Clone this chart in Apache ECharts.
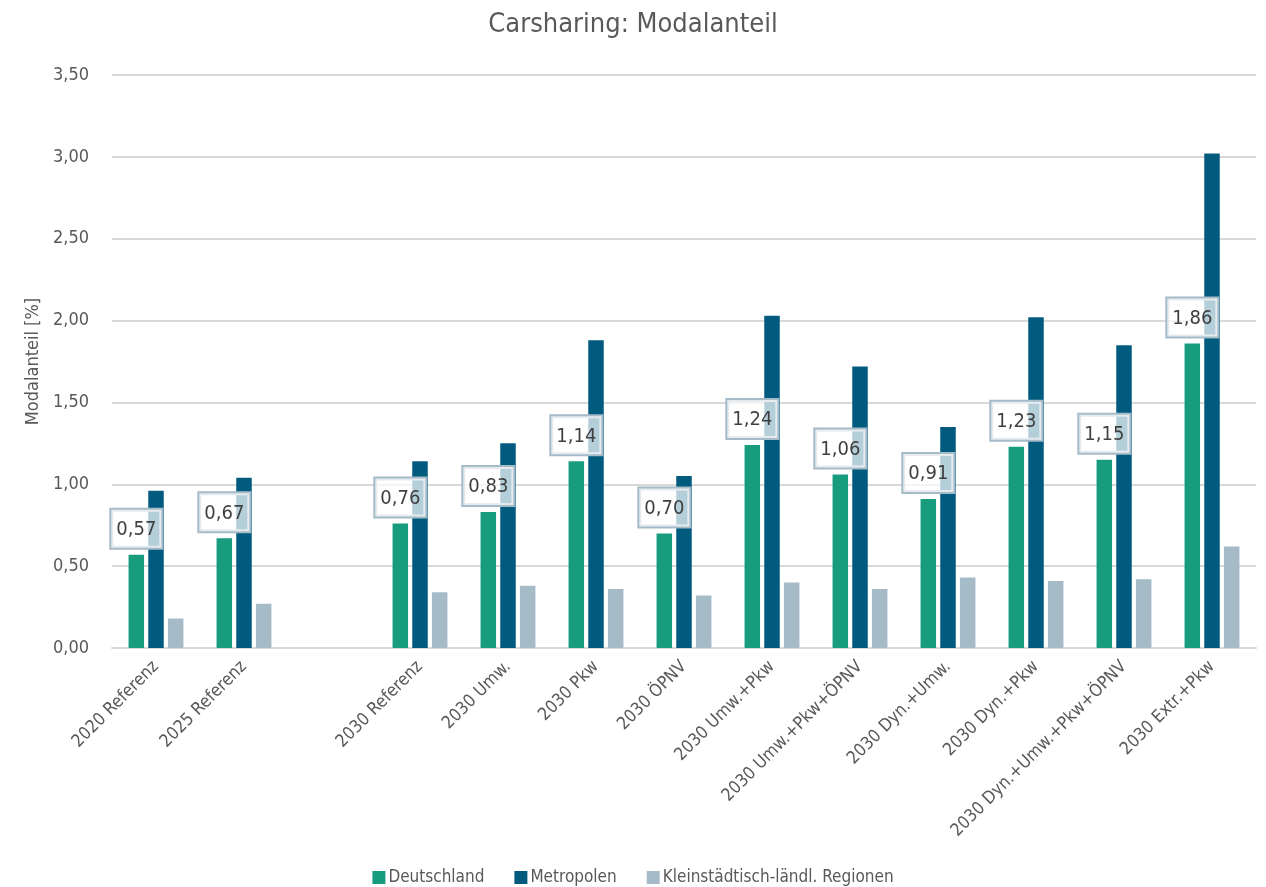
<!DOCTYPE html>
<html>
<head>
<meta charset="utf-8">
<script src="https://cdn.jsdelivr.net/npm/echarts@6/dist/echarts.min.js"></script>
<style>
  html, body { margin: 0; padding: 0; background: #fff; }
  #chart { width: 1266px; height: 887px; }
</style>
</head>
<body>
<div id="chart"></div>
<script>
// Szenarien (leere Kategorie trennt 2025 von den 2030-Szenarien)
const categories = [
  '2020 Referenz', '2025 Referenz', '',
  '2030 Referenz', '2030 Umw.', '2030 Pkw', '2030 ÖPNV',
  '2030 Umw.+Pkw', '2030 Umw.+Pkw+ÖPNV', '2030 Dyn.+Umw.',
  '2030 Dyn.+Pkw', '2030 Dyn.+Umw.+Pkw+ÖPNV', '2030 Extr.+Pkw'
];

// Modalanteil Carsharing in %
const deutschland = [0.57, 0.67, '-', 0.76, 0.83, 1.14, 0.70, 1.24, 1.06, 0.91, 1.23, 1.15, 1.86];
const metropolen  = [0.96, 1.04, '-', 1.14, 1.25, 1.88, 1.05, 2.03, 1.72, 1.35, 2.02, 1.85, 3.02];
const laendlich   = [0.18, 0.27, '-', 0.34, 0.38, 0.36, 0.32, 0.40, 0.36, 0.43, 0.41, 0.42, 0.62];

const yTicks = { min: 0, max: 3.5, interval: 0.5 };

const FONT = '"Liberation Sans Narrow", "DejaVu Sans Condensed", "Roboto Condensed", Roboto, sans-serif';
const TEXT = '#595959';
const fmt = v => Number(v).toFixed(2).replace('.', ',');

const chart = echarts.init(document.getElementById('chart'), null, { renderer: 'canvas' });

chart.setOption({
  animation: false,
  textStyle: { fontFamily: FONT, color: TEXT },
  title: {
    text: 'Carsharing: Modalanteil',
    left: 'center',
    top: 6,
    textStyle: { fontFamily: FONT, fontSize: 27, fontWeight: 'normal', color: TEXT }
  },
  legend: {
    top: 864,
    left: 'center',
    itemWidth: 13,
    itemHeight: 13,
    itemGap: 30,
    icon: 'rect',
    textStyle: { fontFamily: FONT, fontSize: 17, color: TEXT, padding: [0, 0, 0, -2] },
    data: ['Deutschland', 'Metropolen', 'Kleinstädtisch-ländl. Regionen']
  },
  grid: { left: 112, right: 10, top: 75, bottom: 239, containLabel: false },
  xAxis: {
    type: 'category',
    data: categories,
    axisTick: { show: false },
    axisLine: { lineStyle: { color: '#d9d9d9', width: 2 } },
    axisLabel: {
      rotate: 45,
      interval: 0,
      margin: 16,
      fontFamily: FONT,
      fontSize: 17.5,
      color: TEXT
    }
  },
  yAxis: {
    type: 'value',
    min: yTicks.min,
    max: yTicks.max,
    interval: yTicks.interval,
    name: 'Modalanteil [%]',
    nameLocation: 'middle',
    nameGap: 70,
    nameRotate: 90,
    nameTextStyle: { fontFamily: FONT, fontSize: 18, color: TEXT },
    axisLine: { show: false },
    axisTick: { show: false },
    axisLabel: { formatter: fmt, fontFamily: FONT, fontSize: 18, color: TEXT, margin: 23 },
    splitLine: { lineStyle: { color: '#d9d9d9', width: 2 } }
  },
  series: [
    {
      name: 'Deutschland',
      type: 'bar',
      data: deutschland,
      barWidth: 15.5,
      barGap: '27%',
      itemStyle: { color: '#179c7d' },
      label: {
        show: true,
        position: 'top',
        distance: 7,
        formatter: p => fmt(p.value),
        fontFamily: FONT,
        fontSize: 20,
        color: '#404040',
        backgroundColor: 'rgba(255,255,255,0.71)',
        borderColor: '#a6bbc8',
        borderWidth: 2,
        padding: [10, 5, 8, 5]
      }
    },
    {
      name: 'Metropolen',
      type: 'bar',
      data: metropolen,
      barWidth: 15.5,
      barGap: '27%',
      itemStyle: { color: '#005b7f' }
    },
    {
      name: 'Kleinstädtisch-ländl. Regionen',
      type: 'bar',
      data: laendlich,
      barWidth: 15.5,
      barGap: '27%',
      itemStyle: { color: '#a6bbc8' }
    }
  ]
});
</script>
</body>
</html>
